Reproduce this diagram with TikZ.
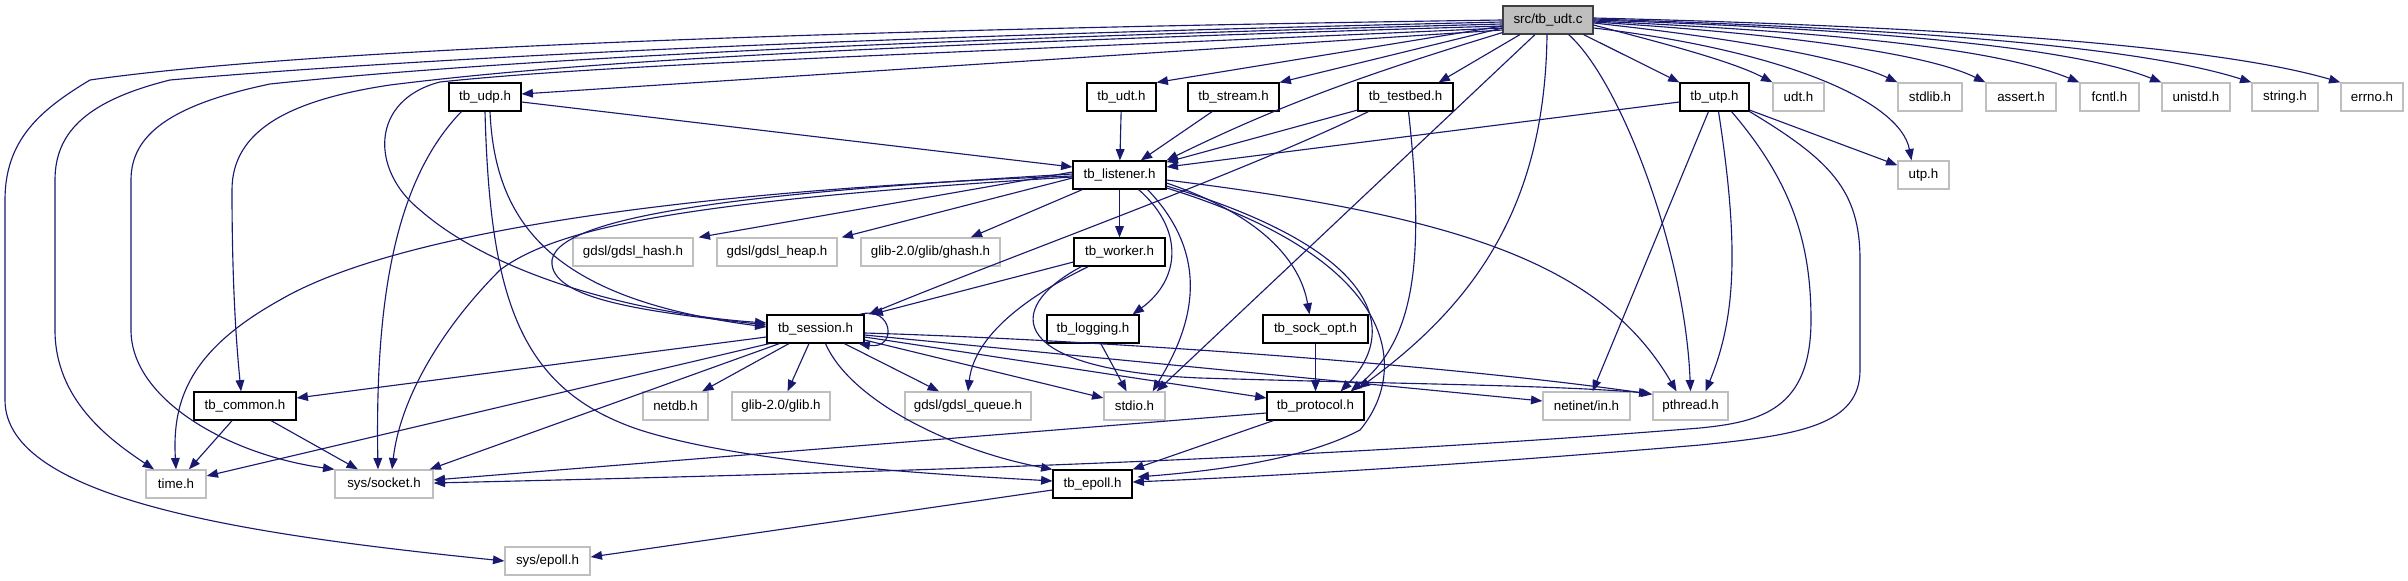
\documentclass[tikz,border=0pt]{standalone}
\usepackage{fontspec}
\setmainfont{Liberation Sans}
\usetikzlibrary{arrows.meta,calc}
\definecolor{mblue}{HTML}{191970}
\definecolor{gray75}{HTML}{BFBFBF}
\tikzset{
  base/.style={rectangle, inner sep=0pt, minimum height=21pt, font=\fontsize{10}{12}\selectfont, text=black},
  bw/.style={minimum width=#1*0.75pt},
  ext/.style={base, draw=gray75, line width=1pt, fill=white},
  loc/.style={base, draw=black, line width=0.85pt, fill=white},
  root/.style={base, draw=black!75, line width=0.85pt, fill=gray75},
  e/.style={draw=mblue, line width=0.85pt, -{Triangle[length=8.5pt,width=6.5pt]}},
}
\begin{document}
\begin{tikzpicture}[x=0.75pt,y=-0.75pt]
\useasboundingbox (0,0) rectangle (2408,581);
% row 1
\node[root,bw=90] (src) at (1548,20) {src/tb\_udt.c};
% row 2
\node[loc,bw=72] (udp) at (485,97) {tb\_udp.h};
\node[loc,bw=69] (udt) at (1121.5,97) {tb\_udt.h};
\node[loc,bw=91] (stream) at (1233.5,97) {tb\_stream.h};
\node[loc,bw=95] (testbed) at (1405.5,97) {tb\_testbed.h};
\node[loc,bw=69] (utp) at (1714.5,97) {tb\_utp.h};
\node[ext,bw=51] (udth) at (1798.5,97) {udt.h};
\node[ext,bw=64] (stdlib) at (1930,97) {stdlib.h};
\node[ext,bw=70] (assert) at (2021,97) {assert.h};
\node[ext,bw=59] (fcntl) at (2109.5,97) {fcntl.h};
\node[ext,bw=68] (unistd) at (2196,97) {unistd.h};
\node[ext,bw=66] (string) at (2285,97) {string.h};
\node[ext,bw=62] (errno) at (2372,97) {errno.h};
% row 3
\node[loc,bw=93] (listener) at (1119.5,175) {tb\_listener.h};
\node[ext,bw=51] (utph) at (1923.5,175) {utp.h};
% row 4
\node[ext,bw=120] (hash) at (633,252) {gdsl/gdsl\_hash.h};
\node[ext,bw=120] (heap) at (777,252) {gdsl/gdsl\_heap.h};
\node[ext,bw=139] (ghash) at (930.5,252) {glib-2.0/glib/ghash.h};
\node[loc,bw=91] (worker) at (1119.5,252) {tb\_worker.h};
% row 5
\node[loc,bw=97] (session) at (815.5,329) {tb\_session.h};
\node[loc,bw=92] (logging) at (1093,329) {tb\_logging.h};
\node[loc,bw=105] (sockopt) at (1315.5,329) {tb\_sock\_opt.h};
% row 6
\node[loc,bw=102] (common) at (245,406) {tb\_common.h};
\node[ext,bw=65] (netdb) at (675.5,406) {netdb.h};
\node[ext,bw=98] (glib) at (781,406) {glib-2.0/glib.h};
\node[ext,bw=126] (queue) at (968,406) {gdsl/gdsl\_queue.h};
\node[ext,bw=61] (stdio) at (1134.5,406) {stdio.h};
\node[loc,bw=97] (protocol) at (1315.5,406) {tb\_protocol.h};
\node[ext,bw=87] (netinet) at (1586.5,406) {netinet/in.h};
\node[ext,bw=75] (pthread) at (1690.5,406) {pthread.h};
% row 7
\node[ext,bw=60] (time) at (176,484) {time.h};
\node[ext,bw=98] (socket) at (384,484) {sys/socket.h};
\node[loc,bw=79] (epoll) at (1092.5,484) {tb\_epoll.h};
% row 8
\node[ext,bw=85] (sysepoll) at (547.5,561) {sys/epoll.h};

% ---------- edges from src/tb_udt.c
\draw[e] (src.west) .. controls (800,30) and (300,50) .. (90,80) .. controls (40,110) and (5,140) .. (5,200) -- (5,400) .. controls (5,500) and (250,535) .. (sysepoll.west);
\draw[e] ($(src.west)+(0,2)$) .. controls (800,38) and (400,60) .. (170,80) .. controls (90,100) and (55,130) .. (55,180) -- (55,330) .. controls (55,400) and (110,440) .. (time);
\draw[e] ($(src.west)+(0,4)$) .. controls (800,42) and (450,65) .. (270,84) .. controls (170,105) and (131,135) .. (131,180) -- (131,330) .. controls (131,400) and (230,455) .. (socket.north west);
\draw[e] ($(src.west)+(0,6)$) .. controls (800,47) and (550,65) .. (390,85) .. controls (290,100) and (232,130) .. (232,190) .. controls (232,300) and (238,360) .. ($(common.north)+(-4,0)$);
\draw[e] ($(src.west)+(0,8)$) .. controls (900,55) and (600,65) .. (440,82) .. controls (370,100) and (370,170) .. (420,210) .. controls (500,280) and (650,315) .. ($(session.west)+(0,-6)$);
\draw[e] ($(src.west)+(0,10)$) -- ($(udp.east)+(0,-3)$);
\draw[e] ($(src.west)+(0,6)$) -- (udt.north east);
\draw[e] ($(src.west)+(0,8)$) -- (stream.north east);
\draw[e] ($(src.south)+(-28,0)$) -- ($(testbed.north east)+(-15,0)$);
\draw[e] ($(src.south west)+(0,-2)$) .. controls (1380,70) and (1290,100) .. (listener.north east);
\draw[e] ($(src.south)+(-13,0)$) -- ($(stdio.north east)+(-9,0)$);
\draw[e] ($(src.south)+(-1,0)$) .. controls (1545,200) and (1480,300) .. ($(protocol.north east)+(-6,-3)$);
\draw[e] ($(src.south east)+(-25,0)$) .. controls (1620,80) and (1685,250) .. (pthread.north);
\draw[e] ($(src.south east)+(-10,0)$) -- (utp.north west);
\draw[e] ($(src.east)+(0,5)$) .. controls (1650,40) and (1730,60) .. (udth.north west);
\draw[e] ($(src.east)+(0,8)$) .. controls (1780,50) and (1900,100) .. ($(utph.north)+(-12,0)$);
\draw[e] ($(src.east)+(0,3)$) .. controls (1750,40) and (1850,60) .. (stdlib.north west);
\draw[e] ($(src.east)+(0,2)$) .. controls (1800,35) and (1930,55) .. (assert.north west);
\draw[e] ($(src.east)+(0,1)$) .. controls (1850,33) and (2000,50) .. (fcntl.north west);
\draw[e] (src.east) .. controls (1900,30) and (2080,50) .. (unistd.north west);
\draw[e] ($(src.east)+(0,-1)$) .. controls (1950,30) and (2150,50) .. (string.north west);
\draw[e] ($(src.east)+(0,-2)$) .. controls (2000,28) and (2230,50) .. (errno.north west);

% ---------- tb_udp.h
\draw[e] ($(udp.east)+(0,5)$) -- ($(listener.west)+(0,-8)$);
\draw[e] ($(udp.south west)+(13,0)$) .. controls (395,180) and (375,300) .. ($(socket.north)+(-6,0)$);
\draw[e] ($(udp.south)+(5,0)$) .. controls (495,230) and (560,300) .. ($(session.west)+(0,-2)$);
\draw[e] (udp.south) .. controls (490,300) and (520,390) .. (640,430) .. controls (750,465) and (950,475) .. ($(epoll.west)+(0,-3)$);

% ---------- tb_udt.h, tb_stream.h, tb_testbed.h
\draw[e] (udt) -- (listener);
\draw[e] (stream) -- (listener);
\draw[e] (testbed) -- (listener);
\draw[e] ($(testbed.south west)+(11,0)$) .. controls (1250,170) and (1000,260) .. ($(session.north east)+(4,0)$);
\draw[e] ($(testbed.south)+(3,0)$) .. controls (1425,260) and (1415,340) .. ($(protocol.north east)+(-14,0)$);

% ---------- tb_utp.h
\draw[e] ($(utp.west)+(0,5)$) -- ($(listener.east)+(0,-8)$);
\draw[e] (utp) -- (utph);
\draw[e] (utp) -- (netinet);
\draw[e] ($(utp.south)+(4,0)$) .. controls (1740,250) and (1735,320) .. ($(pthread.north)+(15,0)$);
\draw[e] ($(utp.south)+(17,0)$) .. controls (1790,180) and (1811,240) .. (1811,320) .. controls (1811,410) and (1760,422) .. (1700,428) .. controls (1300,460) and (900,472) .. ($(socket.east)+(0,-1)$);
\draw[e] (utp.south east) .. controls (1830,160) and (1860,190) .. (1860,260) -- (1860,370) .. controls (1860,425) and (1800,435) .. (1700,445) .. controls (1500,462) and (1300,475) .. ($(epoll.east)+(0,-2)$);

% ---------- tb_listener.h
\draw[e] ($(listener.west)+(0,-3)$) -- ($(hash.north east)+(5,0)$);
\draw[e] ($(listener.west)+(0,3)$) -- ($(heap.north east)+(4,0)$);
\draw[e] ($(listener.south west)+(10,0)$) -- ($(ghash.north east)+(-30,0)$);
\draw[e] (listener) -- (worker);
\draw[e] ($(listener.south east)+(-28,0)$) .. controls (1185,230) and (1180,280) .. ($(logging.north east)+(-7,0)$);
\draw[e] ($(listener.south east)+(-19,0)$) .. controls (1215,260) and (1190,330) .. ($(stdio.north east)+(-13,0)$);
\draw[e] ($(listener.east)+(0,8)$) .. controls (1260,215) and (1300,260) .. ($(sockopt.north)+(-6,0)$);
\draw[e] ($(listener.east)+(0,11)$) .. controls (1380,250) and (1400,330) .. ($(protocol.north east)+(-24,0)$);
\draw[e] ($(listener.east)+(0,13)$) .. controls (1400,260) and (1410,370) .. (1360,430) .. controls (1300,462) and (1200,472) .. ($(epoll.east)+(5,-7)$);
\draw[e] ($(listener.east)+(0,5)$) .. controls (1450,215) and (1600,260) .. ($(pthread.north)+(-14,0)$);
\draw[e] ($(listener.west)+(0,-1)$) .. controls (800,190) and (560,210) .. (552,260) .. controls (548,300) and (650,312) .. ($(session.west)+(0,-4)$);
\draw[e] ($(listener.west)+(0,1)$) .. controls (700,190) and (400,230) .. (280,300) .. controls (190,350) and (172,400) .. (time.north);
\draw[e] ($(listener.west)+(0,2)$) .. controls (700,200) and (560,225) .. (500,270) .. controls (440,330) and (400,400) .. ($(socket.north)+(8,0)$);

% ---------- tb_worker.h
\draw[e] ($(worker.west)+(0,10)$) -- ($(session.north east)+(7,0)$);
\draw[e] ($(worker.south west)+(15,0)$) .. controls (1040,290) and (975,330) .. (queue.north);
\draw[e] ($(worker.south west)+(8,0)$) .. controls (1000,310) and (1010,370) .. (1200,378) .. controls (1400,384) and (1550,385) .. ($(pthread.north west)+(-2,2)$);

% ---------- tb_session.h
\draw[e] ($(session.north east)+(-5,0)$) .. controls (893,305) and (898,350) .. ($(session.south east)+(-6,0)$);
\draw[e] ($(session.west)+(0,8)$) -- ($(common.east)+(0,-8)$);
\draw[e] ($(session.south west)+(3,0)$) -- ($(time.east)+(0,-8)$);
\draw[e] ($(session.south west)+(13,0)$) -- ($(socket.north east)+(-4,0)$);
\draw[e] (session) -- (netdb);
\draw[e] (session) -- (glib);
\draw[e] (session) -- (queue);
\draw[e] ($(session.south)+(10,0)$) .. controls (850,400) and (950,450) .. (epoll.north west);
\draw[e] ($(session.east)+(0,11)$) -- ($(stdio.west)+(0,-8)$);
\draw[e] ($(session.east)+(0,8)$) -- ($(protocol.west)+(0,-8)$);
\draw[e] ($(session.east)+(0,6)$) -- ($(netinet.west)+(0,-5)$);
\draw[e] ($(session.east)+(0,4)$) .. controls (1100,340) and (1450,365) .. ($(pthread.north west)+(0,3)$);

% ---------- others
\draw[e] (common) -- (time);
\draw[e] (common) -- (socket);
\draw[e] (logging) -- (stdio);
\draw[e] (sockopt) -- (protocol);
\draw[e] ($(protocol.west)+(0,7)$) -- ($(socket.east)+(0,-4)$);
\draw[e] ($(protocol.south west)+(7,0)$) -- (epoll.north east);
\draw[e] ($(epoll.west)+(0,6)$) -- ($(sysepoll.east)+(0,-4)$);
\end{tikzpicture}
\end{document}
